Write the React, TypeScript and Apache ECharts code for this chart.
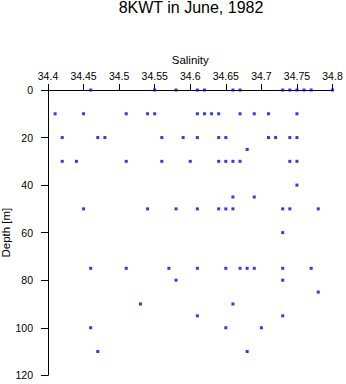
import React, { useEffect, useRef } from "react";
import * as echarts from "echarts";

// Salinity readings at each sampled depth (m)
const sal0 = [34.46, 34.55, 34.58, 34.61, 34.62, 34.66, 34.67, 34.73, 34.74, 34.75, 34.76, 34.77, 34.8];
const sal10 = [34.41, 34.45, 34.51, 34.54, 34.55, 34.61, 34.62, 34.63, 34.64, 34.67, 34.69, 34.71, 34.75];
const sal20 = [34.42, 34.47, 34.48, 34.56, 34.59, 34.61, 34.64, 34.65, 34.71, 34.72, 34.74, 34.75];
const sal25 = [34.68];
const sal30 = [34.42, 34.44, 34.51, 34.56, 34.6, 34.64, 34.65, 34.66, 34.67, 34.74, 34.75];
const sal40 = [34.75];
const sal45 = [34.66, 34.69];
const sal50 = [34.45, 34.54, 34.58, 34.61, 34.64, 34.65, 34.66, 34.73, 34.74, 34.78];
const sal60 = [34.73];
const sal75 = [34.46, 34.51, 34.57, 34.61, 34.65, 34.67, 34.68, 34.69, 34.73, 34.77];
const sal80 = [34.58, 34.73];
const sal85 = [34.78];
const sal90 = [34.53, 34.66];
const sal95 = [34.61, 34.73];
const sal100 = [34.46, 34.65, 34.7];
const sal110 = [34.47, 34.68];

const depths = [0, 10, 20, 25, 30, 40, 45, 50, 60, 75, 80, 85, 90, 95, 100, 110];
const salinityByDepth = [sal0, sal10, sal20, sal25, sal30, sal40, sal45, sal50, sal60, sal75, sal80, sal85, sal90, sal95, sal100, sal110];

const FONT = "'Liberation Sans', Arial, Helvetica, sans-serif";

export default function App() {
  const ref = useRef<HTMLDivElement>(null);
  useEffect(() => {
    if (!ref.current) return;
    const chart = echarts.init(ref.current, undefined, { renderer: "svg" });
    const points: number[][] = [];
    depths.forEach((d, i) => salinityByDepth[i].forEach((s) => points.push([s, d])));
    chart.setOption({
      animation: false,
      backgroundColor: "#ffffff",
      title: {
        text: "8KWT in June, 1982",
        left: 191,
        top: -1,
        padding: 0,
        textAlign: "center",
        textStyle: { fontFamily: FONT, fontSize: 16, fontWeight: "normal", color: "#000" },
      },
      grid: { left: 48, right: 13.5, top: 90, bottom: 8.7, containLabel: false, outerBoundsMode: "none" },
      xAxis: {
        type: "value",
        position: "top",
        min: 34.4,
        max: 34.8,
        interval: 0.05,
        name: "Salinity",
        nameLocation: "middle",
        nameGap: 24,
        nameMoveOverlap: false,
        nameTextStyle: { fontFamily: FONT, fontSize: 11.5, color: "#000" },
        axisLine: { show: true, onZero: false, lineStyle: { color: "#000", width: 1 } },
        axisTick: { show: true, inside: false, length: 6, lineStyle: { color: "#000" } },
        axisLabel: {
          fontFamily: FONT,
          fontSize: 10.5,
          color: "#000",
          margin: 9,
          formatter: (v: number) => String(parseFloat(v.toFixed(2))),
        },
        splitLine: { show: false },
      },
      yAxis: {
        type: "value",
        inverse: true,
        min: 0,
        max: 120,
        interval: 20,
        name: "Depth [m]",
        nameLocation: "middle",
        nameGap: 36,
        nameMoveOverlap: false,
        nameRotate: 90,
        nameTextStyle: { fontFamily: FONT, fontSize: 11.5, color: "#000" },
        axisLine: { show: true, onZero: false, lineStyle: { color: "#000", width: 1 } },
        axisTick: { show: true, inside: false, length: 7, lineStyle: { color: "#000" } },
        axisLabel: { fontFamily: FONT, fontSize: 10.5, color: "#000", margin: 15 },
        splitLine: { show: false },
      },
      series: [
        {
          type: "scatter",
          data: points,
          symbol: "rect",
          symbolSize: 3,
          itemStyle: { color: "#0000ff" },
          clip: false,
        },
      ],
    });
    return () => chart.dispose();
  }, []);
  return (
    <div
      ref={ref}
      style={{ position: "fixed", left: 0, top: 0, width: 346, height: 384, background: "#fff" }}
    />
  );
}
